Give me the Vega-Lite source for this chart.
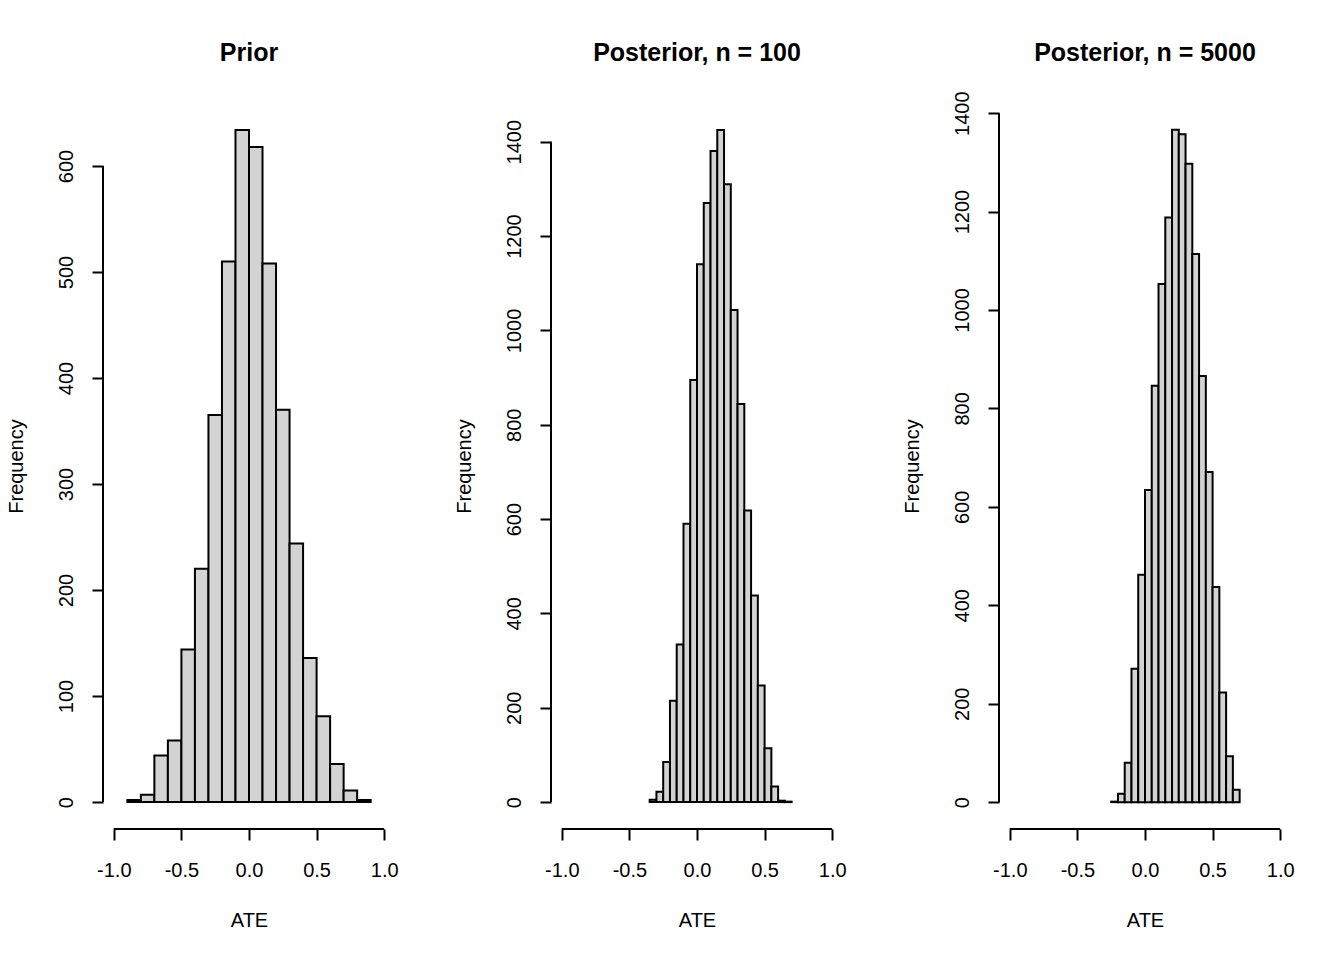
{
  "$schema": "https://vega.github.io/schema/vega-lite/v6.json",
  "background": "white",
  "padding": {"left": 6, "top": 40, "right": 5, "bottom": 5},
  "bounds": "flush",
  "spacing": 156,
  "config": {
    "font": "Liberation Sans",
    "view": {"stroke": null},
    "title": {"fontSize": 25, "fontWeight": "bold", "color": "black", "font": "Liberation Sans", "anchor": "middle"},
    "axis": {
      "labelFont": "Liberation Sans", "titleFont": "Liberation Sans",
      "labelFontSize": 20, "titleFontSize": 20, "titleFontWeight": "normal",
      "labelColor": "black", "titleColor": "black",
      "tickColor": "black", "tickWidth": 2, "tickSize": 11,
      "domain": false, "grid": false,
      "labelFlush": false, "labelOverlap": false, "labelBound": false
    }
  },
  "datasets": {
    "prior": [
      {"bin_start": -0.9, "bin_end": -0.8, "count": 2},
      {"bin_start": -0.8, "bin_end": -0.7, "count": 7},
      {"bin_start": -0.7, "bin_end": -0.6, "count": 44},
      {"bin_start": -0.6, "bin_end": -0.5, "count": 58},
      {"bin_start": -0.5, "bin_end": -0.4, "count": 144},
      {"bin_start": -0.4, "bin_end": -0.3, "count": 220},
      {"bin_start": -0.3, "bin_end": -0.2, "count": 365},
      {"bin_start": -0.2, "bin_end": -0.1, "count": 510},
      {"bin_start": -0.1, "bin_end": 0.0, "count": 634},
      {"bin_start": 0.0, "bin_end": 0.1, "count": 618},
      {"bin_start": 0.1, "bin_end": 0.2, "count": 508},
      {"bin_start": 0.2, "bin_end": 0.3, "count": 370},
      {"bin_start": 0.3, "bin_end": 0.4, "count": 244},
      {"bin_start": 0.4, "bin_end": 0.5, "count": 136},
      {"bin_start": 0.5, "bin_end": 0.6, "count": 81},
      {"bin_start": 0.6, "bin_end": 0.7, "count": 36},
      {"bin_start": 0.7, "bin_end": 0.8, "count": 11},
      {"bin_start": 0.8, "bin_end": 0.9, "count": 2}
    ],
    "post100": [
      {"bin_start": -0.35, "bin_end": -0.30, "count": 5},
      {"bin_start": -0.30, "bin_end": -0.25, "count": 22},
      {"bin_start": -0.25, "bin_end": -0.20, "count": 85},
      {"bin_start": -0.20, "bin_end": -0.15, "count": 215},
      {"bin_start": -0.15, "bin_end": -0.10, "count": 334},
      {"bin_start": -0.10, "bin_end": -0.05, "count": 590},
      {"bin_start": -0.05, "bin_end": 0.00, "count": 895},
      {"bin_start": 0.00, "bin_end": 0.05, "count": 1140},
      {"bin_start": 0.05, "bin_end": 0.10, "count": 1270},
      {"bin_start": 0.10, "bin_end": 0.15, "count": 1380},
      {"bin_start": 0.15, "bin_end": 0.20, "count": 1425},
      {"bin_start": 0.20, "bin_end": 0.25, "count": 1310},
      {"bin_start": 0.25, "bin_end": 0.30, "count": 1043},
      {"bin_start": 0.30, "bin_end": 0.35, "count": 844},
      {"bin_start": 0.35, "bin_end": 0.40, "count": 618},
      {"bin_start": 0.40, "bin_end": 0.45, "count": 438},
      {"bin_start": 0.45, "bin_end": 0.50, "count": 247},
      {"bin_start": 0.50, "bin_end": 0.55, "count": 114},
      {"bin_start": 0.55, "bin_end": 0.60, "count": 33},
      {"bin_start": 0.60, "bin_end": 0.65, "count": 3},
      {"bin_start": 0.65, "bin_end": 0.70, "count": 1}
    ],
    "post5000": [
      {"bin_start": -0.25, "bin_end": -0.20, "count": 1},
      {"bin_start": -0.20, "bin_end": -0.15, "count": 17},
      {"bin_start": -0.15, "bin_end": -0.10, "count": 80},
      {"bin_start": -0.10, "bin_end": -0.05, "count": 271},
      {"bin_start": -0.05, "bin_end": 0.00, "count": 462},
      {"bin_start": 0.00, "bin_end": 0.05, "count": 634},
      {"bin_start": 0.05, "bin_end": 0.10, "count": 846},
      {"bin_start": 0.10, "bin_end": 0.15, "count": 1053},
      {"bin_start": 0.15, "bin_end": 0.20, "count": 1188},
      {"bin_start": 0.20, "bin_end": 0.25, "count": 1366},
      {"bin_start": 0.25, "bin_end": 0.30, "count": 1357},
      {"bin_start": 0.30, "bin_end": 0.35, "count": 1297},
      {"bin_start": 0.35, "bin_end": 0.40, "count": 1114},
      {"bin_start": 0.40, "bin_end": 0.45, "count": 866},
      {"bin_start": 0.45, "bin_end": 0.50, "count": 671},
      {"bin_start": 0.50, "bin_end": 0.55, "count": 437},
      {"bin_start": 0.55, "bin_end": 0.60, "count": 223},
      {"bin_start": 0.60, "bin_end": 0.65, "count": 93},
      {"bin_start": 0.65, "bin_end": 0.70, "count": 25}
    ]
  },
  "hconcat": [
    {
      "width": 292, "height": 726,
      "title": {"text": "Prior", "offset": 37},
      "layer": [
        {
          "data": {"name": "prior"},
          "mark": {"type": "bar", "fill": "#D3D3D3", "stroke": "black", "strokeWidth": 2},
          "encoding": {
            "x": {"field": "bin_start", "type": "quantitative", "scale": {"domain": [-1.08, 1.08], "nice": false, "zero": false},
                  "axis": {"title": "ATE", "values": [-1, -0.5, 0, 0.5, 1], "labelExpr": "replace(format(datum.value, '.1f'), '\u2212', '-')", "labelPadding": 20, "titlePadding": 30}},
            "x2": {"field": "bin_end"},
            "y": {"field": "count", "type": "quantitative", "scale": {"domain": [-25.4, 659.4], "nice": false, "zero": false},
                  "axis": {"title": "Frequency", "format": "d", "values": [0, 100, 200, 300, 400, 500, 600], "labelAngle": 270, "labelPadding": 16, "titlePadding": 30}},
            "y2": {"datum": 0}
          }
        },
        {
          "data": {"values": [{"from": -1, "to": 1, "at": -25.4}]},
          "mark": {"type": "rule", "stroke": "black", "strokeWidth": 2},
          "encoding": {"x": {"field": "from", "type": "quantitative"}, "x2": {"field": "to"}, "y": {"field": "at", "type": "quantitative"}}
        },
        {
          "data": {"values": [{"from": 0, "to": 600, "at": -1.08}]},
          "mark": {"type": "rule", "stroke": "black", "strokeWidth": 2},
          "encoding": {"y": {"field": "from", "type": "quantitative"}, "y2": {"field": "to"}, "x": {"field": "at", "type": "quantitative"}}
        }
      ]
    },
    {
      "width": 292, "height": 726,
      "title": {"text": "Posterior, n = 100", "offset": 37},
      "layer": [
        {
          "data": {"name": "post100"},
          "mark": {"type": "bar", "fill": "#D3D3D3", "stroke": "black", "strokeWidth": 2},
          "encoding": {
            "x": {"field": "bin_start", "type": "quantitative", "scale": {"domain": [-1.08, 1.08], "nice": false, "zero": false},
                  "axis": {"title": "ATE", "values": [-1, -0.5, 0, 0.5, 1], "labelExpr": "replace(format(datum.value, '.1f'), '\u2212', '-')", "labelPadding": 20, "titlePadding": 30}},
            "x2": {"field": "bin_end"},
            "y": {"field": "count", "type": "quantitative", "scale": {"domain": [-57, 1482], "nice": false, "zero": false},
                  "axis": {"title": "Frequency", "format": "d", "values": [0, 200, 400, 600, 800, 1000, 1200, 1400], "labelAngle": 270, "labelPadding": 16, "titlePadding": 30}},
            "y2": {"datum": 0}
          }
        },
        {
          "data": {"values": [{"from": -1, "to": 1, "at": -57}]},
          "mark": {"type": "rule", "stroke": "black", "strokeWidth": 2},
          "encoding": {"x": {"field": "from", "type": "quantitative"}, "x2": {"field": "to"}, "y": {"field": "at", "type": "quantitative"}}
        },
        {
          "data": {"values": [{"from": 0, "to": 1400, "at": -1.08}]},
          "mark": {"type": "rule", "stroke": "black", "strokeWidth": 2},
          "encoding": {"y": {"field": "from", "type": "quantitative"}, "y2": {"field": "to"}, "x": {"field": "at", "type": "quantitative"}}
        }
      ]
    },
    {
      "width": 292, "height": 726,
      "title": {"text": "Posterior, n = 5000", "offset": 25},
      "layer": [
        {
          "data": {"name": "post5000"},
          "mark": {"type": "bar", "fill": "#D3D3D3", "stroke": "black", "strokeWidth": 2},
          "encoding": {
            "x": {"field": "bin_start", "type": "quantitative", "scale": {"domain": [-1.08, 1.08], "nice": false, "zero": false},
                  "axis": {"title": "ATE", "values": [-1, -0.5, 0, 0.5, 1], "labelExpr": "replace(format(datum.value, '.1f'), '\u2212', '-')", "labelPadding": 20, "titlePadding": 30}},
            "x2": {"field": "bin_end"},
            "y": {"field": "count", "type": "quantitative", "scale": {"domain": [-54.6, 1420.6], "nice": false, "zero": false},
                  "axis": {"title": "Frequency", "format": "d", "values": [0, 200, 400, 600, 800, 1000, 1200, 1400], "labelAngle": 270, "labelPadding": 16, "titlePadding": 30}},
            "y2": {"datum": 0}
          }
        },
        {
          "data": {"values": [{"from": -1, "to": 1, "at": -54.6}]},
          "mark": {"type": "rule", "stroke": "black", "strokeWidth": 2},
          "encoding": {"x": {"field": "from", "type": "quantitative"}, "x2": {"field": "to"}, "y": {"field": "at", "type": "quantitative"}}
        },
        {
          "data": {"values": [{"from": 0, "to": 1400, "at": -1.08}]},
          "mark": {"type": "rule", "stroke": "black", "strokeWidth": 2},
          "encoding": {"y": {"field": "from", "type": "quantitative"}, "y2": {"field": "to"}, "x": {"field": "at", "type": "quantitative"}}
        }
      ]
    }
  ]
}
